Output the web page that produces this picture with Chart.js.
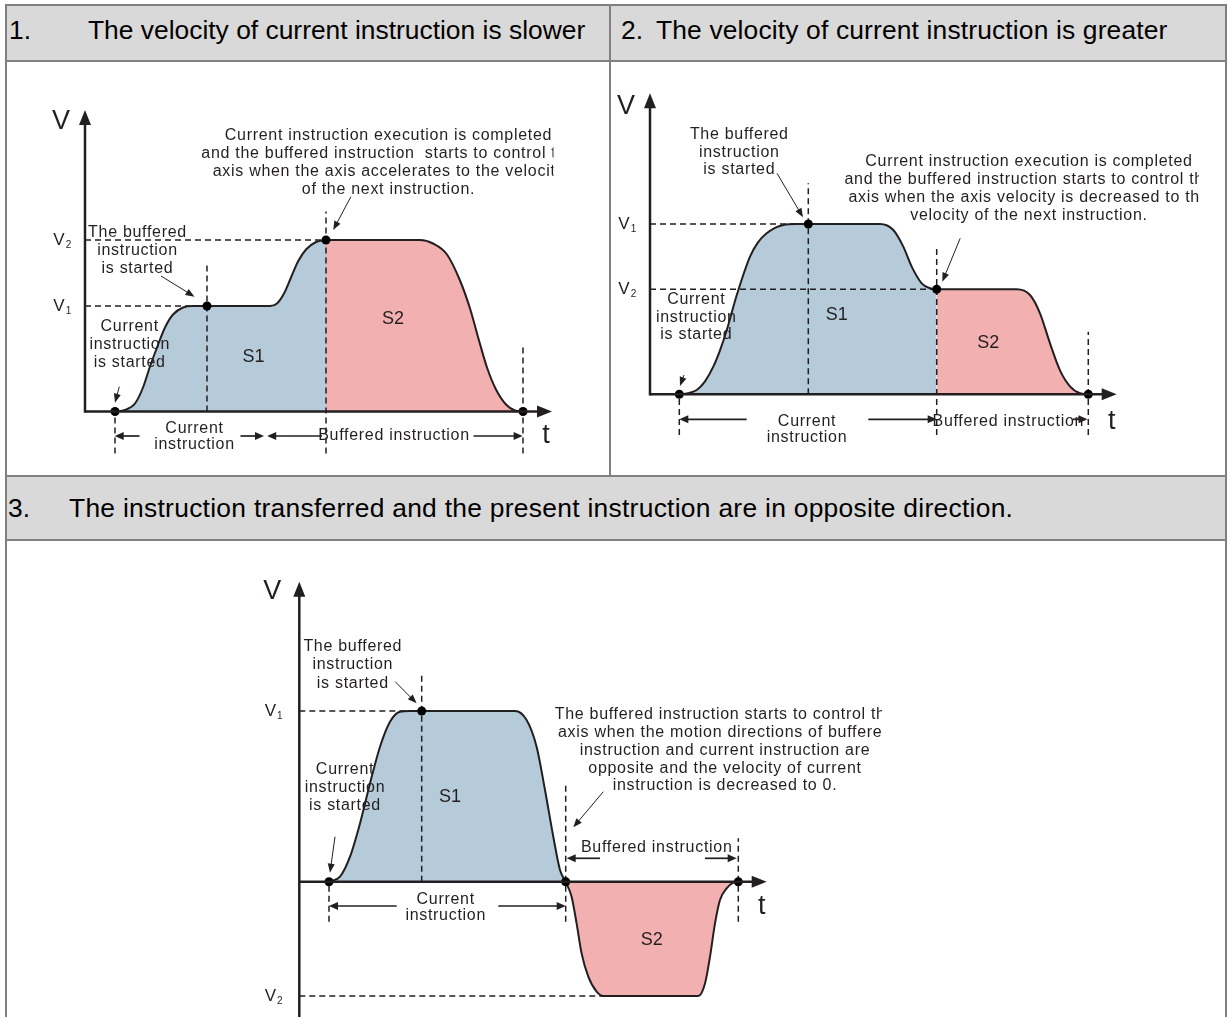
<!DOCTYPE html>
<html lang="en">
<head>
<meta charset="utf-8">
<title>Buffered instruction velocity profiles</title>
<script src="https://cdn.jsdelivr.net/npm/chart.js@4.4.1/dist/chart.umd.min.js"></script>
<style>
  html, body { margin: 0; padding: 0; background: #fff; }
  #page { position: relative; width: 1232px; height: 1017px; overflow: hidden;
          font-family: "Liberation Sans", Arial, sans-serif; color: #000; }
  .rule { position: absolute; background: #808080; }
  .head { position: absolute; background: #d9d9d9; }
  .head span { position: absolute; font-size: 26.4px; line-height: 30px; white-space: nowrap; }
  canvas { position: absolute; }
</style>
</head>
<body>
<div id="page">
  <div class="head" style="left:7px;top:6px;width:602px;height:54px">
    <span style="left:2px;top:9px">1.</span>
    <span style="left:81px;top:9px">The velocity of current instruction is slower</span>
  </div>
  <div class="head" style="left:611px;top:6px;width:614px;height:54px">
    <span style="left:10px;top:9px">2.</span>
    <span style="left:45px;top:9px;letter-spacing:0.15px">The velocity of current instruction is greater</span>
  </div>
  <div class="head" style="left:7px;top:477px;width:1218px;height:62px">
    <span style="left:1px;top:16px">3.</span>
    <span style="left:62px;top:16px;letter-spacing:0.28px">The instruction transferred and the present instruction are in opposite direction.</span>
  </div>

  <canvas id="chart1" width="602" height="413" style="left:7px;top:62px"></canvas>
  <canvas id="chart2" width="614" height="413" style="left:611px;top:62px"></canvas>
  <canvas id="chart3" width="1218" height="476" style="left:7px;top:541px"></canvas>

  <div class="rule" style="left:5px;top:4px;width:1222px;height:2px"></div>
  <div class="rule" style="left:5px;top:60px;width:1222px;height:2px"></div>
  <div class="rule" style="left:5px;top:475px;width:1222px;height:2px"></div>
  <div class="rule" style="left:5px;top:539px;width:1222px;height:2px"></div>
  <div class="rule" style="left:5px;top:4px;width:2px;height:1013px"></div>
  <div class="rule" style="left:609px;top:4px;width:2px;height:473px"></div>
  <div class="rule" style="left:1225px;top:4px;width:2px;height:1013px"></div>
</div>

<script>
// Chart 1 - current instruction slower than the buffered one
const c1S1 = [[30,0],[40,1.5],[50,8],[58,24],[65,45],[72,64],[80,84],[88,97],[98,104],[108,105.5],[122,105.5],
              [185,105.5],[192,108],[199,118],[206,134],[213,150],[221,162],[231,169.5],[241,171.5]];
const c1S2 = [[241,171.5],[335,171.5],[348,168],[362,157],[375,131],[385,103],[394,71],[402,44],[411,22],
              [421,7],[430,1],[438,0]];
const c1Marks = [[30,0],[122,105.5],[241,171.5],[438,0]];
const c1Levels = [105.5, 171.5];

// Chart 2 - current instruction faster than the buffered one
const c2S1 = [[29.3,0],[38,1],[46.7,4.3],[55,13],[63.3,27.7],[70,44],[76.7,64],[86.7,99],[100,137.7],[108,152],
              [116.7,161],[125,166.5],[133.3,169.3],[146.7,170.3],[158.3,170.3],[230,170.3],[243.3,164.3],
              [253.3,147.7],[261.7,127.7],[271.7,111],[280,106],[286.7,105]];
const c2S2 = [[286.7,105],[366.7,105],[380,99.3],[390,81],[400,51],[410,24],[420,8],[430,1],[438.3,0]];
const c2Marks = [[29.3,0],[158.3,170.3],[286.7,105],[438.3,0]];
const c2Levels = [170.3, 105];

// Chart 3 - buffered instruction in the opposite direction
const c3S1 = [[29.7,0],[40.7,5],[50.7,25],[60.7,58.3],[70.7,98.3],[80.7,135],[90.7,160],[100.7,170],[110,170.7],
              [122.4,170.7],[215.7,170.7],[227.3,161.7],[237.3,135],[245.7,91.7],[254,45],[260.7,11.7],[266.4,0]];
const c3S2 = [[266.4,0],[272.3,-15],[277.3,-41.7],[282.3,-71.7],[289,-95],[297.3,-110],[304,-114.3],[399,-114.3],
              [405.7,-101.7],[410.7,-75],[415.7,-41.7],[420.7,-18.3],[427.3,-6.7],[434,-1],[439,0]];
const c3Marks = [[29.7,0],[122.4,170.7],[266.4,0],[439,0]];
const c3Levels = [170.7, -114.3];

const INK = '#231f20';
const FONT = '"Liberation Sans", Arial, sans-serif';

// ===== Layout of each panel (positions in the same px units) =====
const layout1 = {
  box: { left: 7, top: 62, width: 602, height: 413 }, origin: { x: 85, y: 411.5 },
  vFrom: 0, vTip: 301.5, tTip: 467, vLabel: [-24, 290], tLabel: [461, -24.5], levelX: -26,
  hGuides: [[0, 122], [1, 241]],
  vGuides: [[0, -42, 0], [1, 0, 150], [2, -42, 200], [3, -42, 64]],
  notes: [
    { at: [303.5, 275.5], lh: 18, clip: 468.5, lines: ['Current instruction execution is completed',
      'and the buffered instruction  starts to control the', 'axis when the axis accelerates to the velocity',
      'of the next instruction.'] },
    { at: [52.5, 178.8], lh: 17.8, lines: ['The buffered', 'instruction', 'is started'] },
    { at: [44.7, 84.8], lh: 18, lines: ['Current', 'instruction', 'is started'] },
    { at: [109.5, -16.8], lh: 16.7, lines: ['Current', 'instruction'] },
    { at: [309, -24.5], lh: 16, lines: ['Buffered instruction'] }
  ],
  leaders: [[[265.9, 214.8], [248.2, 181.5]], [[76, 135.5], [109.5, 114.8]], [[34.3, 24.8], [30, 8.8]]],
  dims: [[-24.5, 54.5, 29.7], [-24.5, 155.5, 179], [-24.5, 237, 182.2], [-24.5, 388.5, 437.6]],
  areas: [['S1', 168.4, 54.8], ['S2', 308, 92.2]]
};

const layout2 = {
  box: { left: 611, top: 62, width: 614, height: 413 }, origin: { x: 650, y: 394.3 },
  vFrom: 0, vTip: 301, tTip: 466.7, vLabel: [-24, 287.6], tLabel: [461.7, -27.4], levelX: -26,
  hGuides: [[0, 158.3], [1, 286.7]],
  vGuides: [[0, -40.7, 0], [1, 0, 211], [2, -40.7, 146], [3, -40.7, 62.6]],
  notes: [
    { at: [89.3, 259.3], lh: 17.2, lines: ['The buffered', 'instruction', 'is started'] },
    { at: [379, 232.6], lh: 17.9, clip: 549, lines: ['Current instruction execution is completed',
      'and the buffered instruction starts to control the', 'axis when the axis velocity is decreased to the',
      'velocity of the next instruction.'] },
    { at: [46.3, 95], lh: 17.8, lines: ['Current', 'instruction', 'is started'] },
    { at: [157, -27.4], lh: 15.6, lines: ['Current', 'instruction'] },
    { at: [358.3, -27.4], lh: 16, lines: ['Buffered instruction'] }
  ],
  leaders: [[[127, 221], [153, 177]], [[310.2, 156], [292.3, 112.6]], [[34, 19.3], [30, 8.3]]],
  dims: [[-25, 96.7, 29.3], [-25, 218.3, 286.7], [-25, 423, 437.5]],
  areas: [['S1', 186.7, 79.3], ['S2', 338.3, 51]]
};

const layout3 = {
  box: { left: 7, top: 541, width: 1218, height: 476 }, origin: { x: 299.3, y: 881.7 },
  vFrom: -140, vTip: 300, tTip: 467.4, vLabel: [-27, 290], tLabel: [462.4, -25], levelX: -29,
  hGuides: [[0, 122.4], [1, 304]],
  vGuides: [[0, -40, 0], [1, 0, 206.7], [2, -40, 100], [3, -40, 43.4]],
  notes: [
    { at: [53.5, 235], lh: 18.3, lines: ['The buffered', 'instruction', 'is started'] },
    { at: [425.7, 166.7], lh: 17.75, clip: 582.7, lines: ['The buffered instruction starts to control the',
      'axis when the motion directions of buffered', 'instruction and current instruction are',
      'opposite and the velocity of current', 'instruction is decreased to 0.'] },
    { at: [45.7, 111.7], lh: 17.8, lines: ['Current', 'instruction', 'is started'] },
    { at: [146.4, -17.6], lh: 16.4, lines: ['Current', 'instruction'] },
    { at: [357.4, 34.4], lh: 16, lines: ['Buffered instruction'] }
  ],
  leaders: [[[95.9, 200], [117.3, 178.4]], [[304, 90], [274, 54.4]], [[35.7, 45], [30.7, 9]]],
  dims: [[-24.3, 97.4, 29.7], [-24.3, 199, 266.4], [23.4, 300.7, 267.4], [23.4, 405.7, 437.4]],
  areas: [['S1', 150.7, 85], ['S2', 352.4, -58.3]]
};

// ===== Drawing helpers =====
function pts(list) {
  return list.map(([x, y]) => ({ x, y }));
}

function arrow(ctx, x1, y1, x2, y2, len, half) {
  const a = Math.atan2(y2 - y1, x2 - x1);
  const bx = x2 - len * Math.cos(a), by = y2 - len * Math.sin(a);
  ctx.beginPath();
  ctx.moveTo(x1, y1);
  ctx.lineTo(bx + Math.cos(a), by + Math.sin(a));
  ctx.stroke();
  ctx.beginPath();
  ctx.moveTo(x2, y2);
  ctx.lineTo(bx + half * Math.sin(a), by - half * Math.cos(a));
  ctx.lineTo(bx - half * Math.sin(a), by + half * Math.cos(a));
  ctx.closePath();
  ctx.fill();
}

function label(ctx, s, x, y, size, spacing) {
  ctx.font = size + 'px ' + FONT;
  ctx.letterSpacing = spacing || '0px';
  ctx.textAlign = 'center';
  ctx.textBaseline = 'middle';
  ctx.fillText(s, x, y);
}

// ===== Plugin: axes, labels, arrows and notes =====
const diagramPlugin = {
  id: 'diagram',
  afterDatasetsDraw(chart, args, opts) {
    const { ctx } = chart;
    const lay = opts.lay;
    const X = v => chart.scales.x.getPixelForValue(v);
    const Y = v => chart.scales.y.getPixelForValue(v);
    ctx.save();
    ctx.strokeStyle = INK;
    ctx.fillStyle = INK;

    // axes
    ctx.lineWidth = 2.5;
    arrow(ctx, X(0), Y(lay.vFrom) + (lay.vFrom === 0 ? 1.25 : 0), X(0), Y(lay.vTip), 15, 6);
    arrow(ctx, X(0), Y(0), X(lay.tTip), Y(0), 15, 6);
    label(ctx, 'V', X(lay.vLabel[0]), Y(lay.vLabel[1]), 27);
    label(ctx, 't', X(lay.tLabel[0]), Y(lay.tLabel[1]), 27);

    // V1 / V2
    opts.levels.forEach((v, i) => {
      label(ctx, 'V', X(lay.levelX), Y(v), 17);
      label(ctx, String(i + 1), X(lay.levelX) + 9.5, Y(v) + 5, 10);
    });

    // dimension arrows
    ctx.lineWidth = 1.7;
    lay.dims.forEach(([y, from, to]) => arrow(ctx, X(from), Y(y), X(to), Y(y), 9, 4));

    // leader arrows
    ctx.lineWidth = 1;
    lay.leaders.forEach(([a, b]) => arrow(ctx, X(a[0]), Y(a[1]), X(b[0]), Y(b[1]), 9, 3.5));

    // areas
    lay.areas.forEach(([s, x, y]) => label(ctx, s, X(x), Y(y), 18));

    // notes
    lay.notes.forEach(n => {
      ctx.save();
      if (n.clip != null) {
        ctx.beginPath();
        ctx.rect(0, 0, X(n.clip), chart.height);
        ctx.clip();
      }
      n.lines.forEach((s, i) => label(ctx, s, X(n.at[0]), Y(n.at[1]) + i * n.lh, 16, '0.7px'));
      ctx.restore();
    });
    ctx.restore();
  }
};

function dashed(seg) {
  return { data: pts(seg), borderColor: INK, borderWidth: 1.5, borderDash: [6, 4],
           pointRadius: 0, fill: false, order: 2 };
}

function build(id, s1, s2, marks, levels, lay) {
  const { box, origin } = lay;
  const guides = [];
  lay.hGuides.forEach(([li, toX]) => guides.push(dashed([[0, levels[li]], [toX, levels[li]]])));
  lay.vGuides.forEach(([mi, lo, hi]) => guides.push(dashed([[marks[mi][0], lo], [marks[mi][0], hi]])));

  new Chart(document.getElementById(id), {
    type: 'line',
    data: {
      datasets: [
        { data: pts(marks), showLine: false, pointRadius: 4.5, pointBackgroundColor: '#000',
          pointBorderWidth: 0, order: 1 },
        ...guides,
        { data: pts(s1), borderColor: INK, borderWidth: 2, backgroundColor: '#b5cbd9', fill: 'origin',
          cubicInterpolationMode: 'monotone', pointRadius: 0, order: 3 },
        { data: pts(s2), borderColor: INK, borderWidth: 2, backgroundColor: '#f2b0b1', fill: 'origin',
          cubicInterpolationMode: 'monotone', pointRadius: 0, order: 3 }
      ]
    },
    options: {
      responsive: false,
      animation: false,
      events: [],
      layout: { padding: 0, autoPadding: false },
      scales: {
        x: { type: 'linear', display: false, min: box.left - origin.x, max: box.left + box.width - origin.x },
        y: { type: 'linear', display: false, min: origin.y - (box.top + box.height), max: origin.y - box.top }
      },
      plugins: { legend: { display: false }, tooltip: { enabled: false }, diagram: { lay, levels } }
    },
    plugins: [diagramPlugin]
  });
}

build('chart1', c1S1, c1S2, c1Marks, c1Levels, layout1);
build('chart2', c2S1, c2S2, c2Marks, c2Levels, layout2);
build('chart3', c3S1, c3S2, c3Marks, c3Levels, layout3);
</script>
</body>
</html>
